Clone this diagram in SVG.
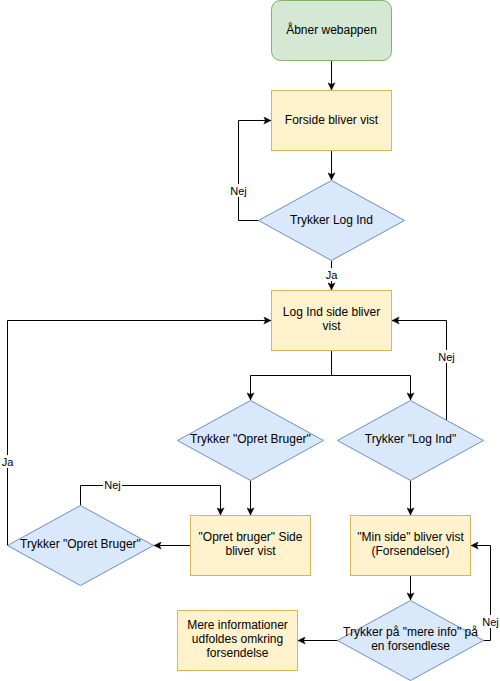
<svg xmlns="http://www.w3.org/2000/svg" width="500" height="681" viewBox="0 0 500 681">
<style>
.t{font-family:"Liberation Sans",Arial,sans-serif;font-size:12px;fill:#000;text-anchor:middle}
.l{font-family:"Liberation Sans",Arial,sans-serif;font-size:11px;fill:#000;text-anchor:middle}
.g{fill:#d5e8d4;stroke:#82b366;stroke-width:1}
.y{fill:#fff2cc;stroke:#d6b656;stroke-width:1}
.b{fill:#dae8fc;stroke:#6c8ebf;stroke-width:1}
.e{fill:none;stroke:#000;stroke-width:1}
</style>
<defs>
<marker id="a" viewBox="0 0 10 10" refX="9.5" refY="5" markerWidth="8" markerHeight="8" markerUnits="userSpaceOnUse" orient="auto">
<path d="M0.5,0.5 L9.5,5 L0.5,9.5 L2.5,5 z" fill="#000" stroke="#000" stroke-width="0.5"/>
</marker>
</defs>
<rect width="500" height="681" fill="#fff"/>
<g id="connectors">
<path class="e" d="M331.5,60.5 V90" marker-end="url(#a)"/>
<path class="e" d="M331.5,150.5 V180" marker-end="url(#a)"/>
<path class="e" d="M258.5,220.5 H238.5 V120.5 H271" marker-end="url(#a)"/>
<path class="e" d="M331.5,260.5 V290" marker-end="url(#a)"/>
<path class="e" d="M331.5,350.5 V375.5 H250.5 V400" marker-end="url(#a)"/>
<path class="e" d="M331.5,375.5 H410.5 V400" marker-end="url(#a)"/>
<path class="e" d="M446.5,420 V320.5 H392" marker-end="url(#a)"/>
<path class="e" d="M250.5,480.5 V515" marker-end="url(#a)"/>
<path class="e" d="M190.5,545.5 H154" marker-end="url(#a)"/>
<path class="e" d="M80.5,505.5 V485.5 H220.5 V515" marker-end="url(#a)"/>
<path class="e" d="M7.5,545.5 V320.5 H271" marker-end="url(#a)"/>
<path class="e" d="M410.5,480.5 V515" marker-end="url(#a)"/>
<path class="e" d="M410.5,575.5 V600" marker-end="url(#a)"/>
<path class="e" d="M483.5,640.5 H490.5 V545.5 H471" marker-end="url(#a)"/>
<path class="e" d="M337.5,640.5 H298" marker-end="url(#a)"/>
<rect x="229" y="184" width="19" height="13" fill="#fff"/>
<text class="l" x="238.5" y="195">Nej</text>
<rect x="324" y="268" width="15" height="13" fill="#fff"/>
<text class="l" x="331.5" y="279">Ja</text>
<rect x="437" y="350" width="19" height="13" fill="#fff"/>
<text class="l" x="446.5" y="361">Nej</text>
<rect x="1" y="455" width="14" height="13" fill="#fff"/>
<text class="l" x="7.5" y="466">Ja</text>
<rect x="103" y="479" width="19" height="13" fill="#fff"/>
<text class="l" x="112.5" y="489">Nej</text>
<rect x="481" y="615" width="19" height="13" fill="#fff"/>
<text class="l" x="490.5" y="626">Nej</text>
</g>
<g id="start">
<rect class="g" x="271.5" y="0.5" width="120" height="60" rx="9" ry="9"/>
<text class="t" x="331.5" y="34">Åbner webappen</text>
</g>
<g id="forside">
<rect class="y" x="271.5" y="90.5" width="120" height="60"/>
<text class="t" x="331.5" y="124">Forside bliver vist</text>
</g>
<g id="d-login">
<polygon class="b" points="331.5,180.5 404.5,220.5 331.5,260.5 258.5,220.5"/>
<text class="t" x="331.5" y="224">Trykker Log Ind</text>
</g>
<g id="loginside">
<rect class="y" x="271.5" y="290.5" width="120" height="60"/>
<text class="t" x="331.5" y="316">Log Ind side bliver</text>
<text class="t" x="331.5" y="330">vist</text>
</g>
<g id="d-opret">
<polygon class="b" points="250.5,400.5 323.5,440.5 250.5,480.5 177.5,440.5"/>
<text class="t" x="250.5" y="443">Trykker "Opret Bruger"</text>
</g>
<g id="d-logind2">
<polygon class="b" points="410.5,400.5 483.5,440.5 410.5,480.5 337.5,440.5"/>
<text class="t" x="410.5" y="443">Trykker "Log Ind"</text>
</g>
<g id="opretside">
<rect class="y" x="190.5" y="515.5" width="120" height="60"/>
<text class="t" x="250.5" y="541">"Opret bruger" Side</text>
<text class="t" x="250.5" y="555">bliver vist</text>
</g>
<g id="d-opret2">
<polygon class="b" points="80.5,505.5 153.5,545.5 80.5,585.5 7.5,545.5"/>
<text class="t" x="80.5" y="548">Trykker "Opret Bruger"</text>
</g>
<g id="minside">
<rect class="y" x="350.5" y="515.5" width="120" height="60"/>
<text class="t" x="410.5" y="541">"Min side" bliver vist</text>
<text class="t" x="410.5" y="555">(Forsendelser)</text>
</g>
<g id="d-mereinfo">
<polygon class="b" points="410.5,600.5 483.5,640.5 410.5,680.5 337.5,640.5"/>
<text class="t" x="410.5" y="636">Trykker på "mere info" på</text>
<text class="t" x="410.5" y="650">en forsendlese</text>
</g>
<g id="mereinfo">
<rect class="y" x="177.5" y="610.5" width="120" height="60"/>
<text class="t" x="237.5" y="629">Mere informationer</text>
<text class="t" x="237.5" y="643">udfoldes omkring</text>
<text class="t" x="237.5" y="657">forsendelse</text>
</g>
</svg>
